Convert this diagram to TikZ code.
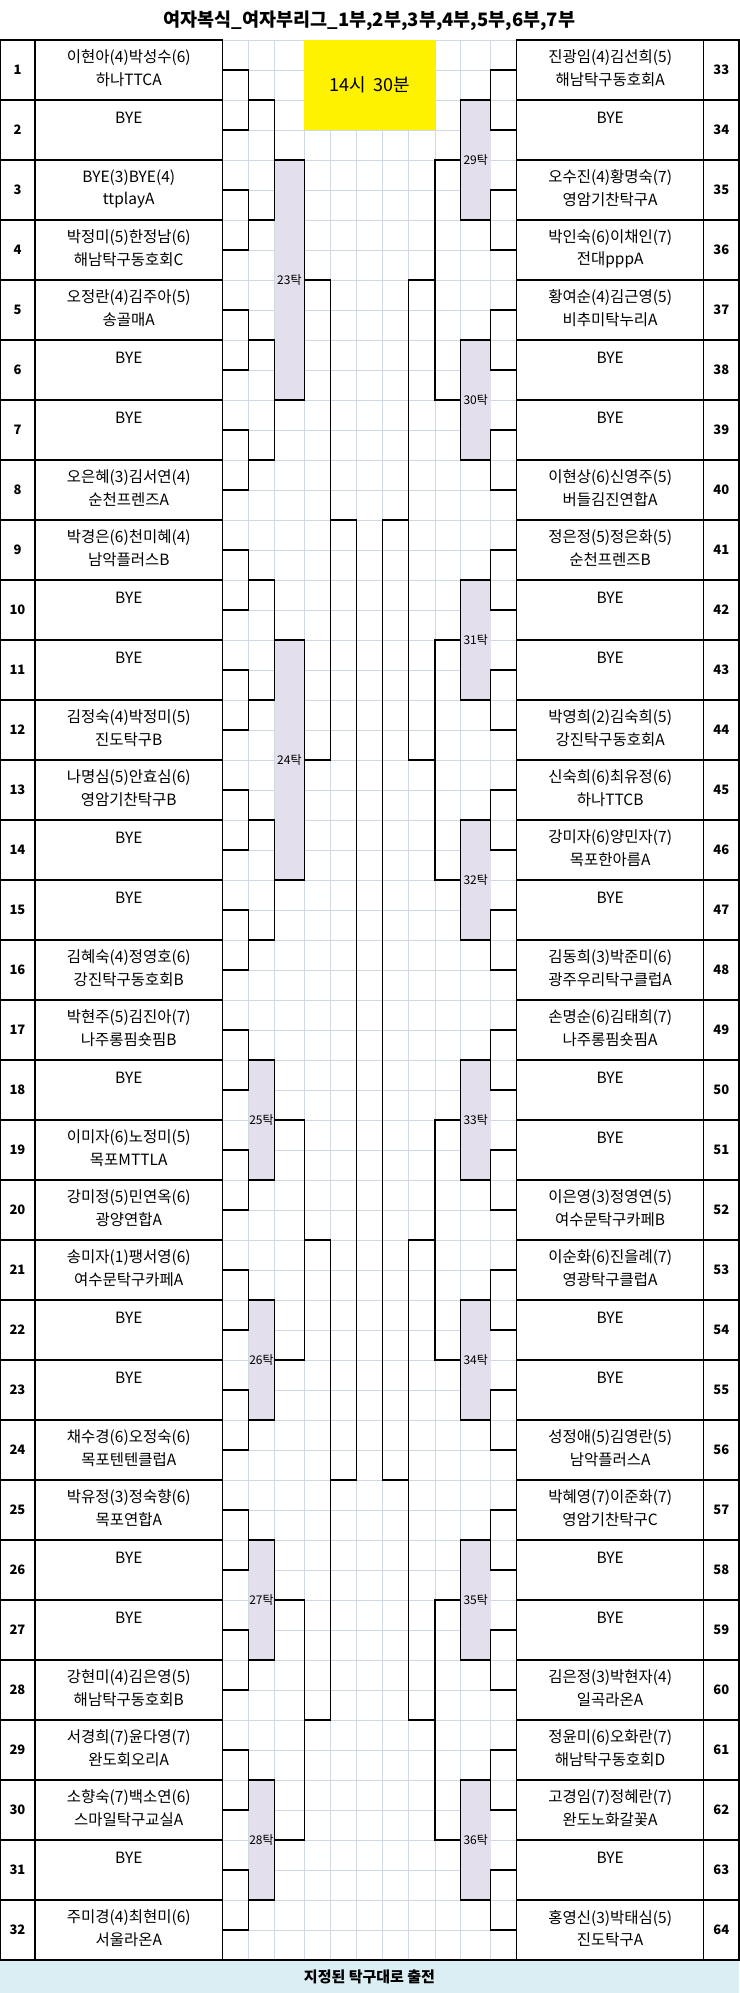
\documentclass[tikz,border=0pt]{standalone}
\usepackage{fontspec}
\setmainfont{Noto Sans CJK KR}
\definecolor{gridc}{HTML}{D0D7E5}
\definecolor{boxc}{HTML}{E4DFEC}
\definecolor{footc}{HTML}{DAEEF3}
\begin{document}
\begin{tikzpicture}[x=1pt,y=-1pt,
  gridline/.style={draw=gridc,line width=0.9pt},
  bline/.style={draw=black,line width=1.1pt},
  nametext/.style={font=\fontsize{15.5}{17}\selectfont,inner sep=0pt,anchor=center},
  numtext/.style={font=\bfseries\fontsize{13}{15}\selectfont,inner sep=0pt},
  taktext/.style={font=\fontsize{12}{14}\selectfont,inner sep=0pt},
  takbox/.style={fill=boxc,draw=none},
]
\useasboundingbox (0,0) rectangle (739,1993);
\fill[white] (0,0) rectangle (739,1993);
% grid
\foreach \x in {222.5,248.5,274.5,304.3,330.7,356.7,382.7,408.7,435,460.7,490.7,516.7}
  \draw[gridline] (\x,40) -- (\x,1960);
\foreach \i in {0,...,64}
  \draw[gridline] (222.5,40+30*\i) -- (516.7,40+30*\i);
% title
\node[font=\bfseries\fontsize{18.5}{20}\selectfont,inner sep=0pt] (title) at (369.5,21) {여자복식\_여자부리그\_1부,2부,3부,4부,5부,6부,7부};
% yellow time box
\fill[yellow] (304.3,40) rectangle (435,130);
\node[font=\fontsize{18}{20}\selectfont,inner sep=0pt] (time) at (369.6,85) {14시\ \ 30분};
% shaded table boxes
\foreach \t in {160,640} \fill[takbox] (274.5,\t) rectangle (304.3,\t+240);
\foreach \t in {1060,1300,1540,1780} \fill[takbox] (248.5,\t) rectangle (274.5,\t+120);
\foreach \t in {100,340,580,820,1060,1300,1540,1780} \fill[takbox] (460.7,\t) rectangle (490.7,\t+120);
\node[taktext] (t23) at (289.4,280) {23탁};
\node[taktext] (t24) at (289.4,760) {24탁};
\node[taktext] (t25) at (261.5,1120) {25탁};
\node[taktext] (t26) at (261.5,1360) {26탁};
\node[taktext] (t27) at (261.5,1600) {27탁};
\node[taktext] (t28) at (261.5,1840) {28탁};
\foreach \t/\lab in {100/29,340/30,580/31,820/32,1060/33,1300/34,1540/35,1780/36}
  \node[taktext] (t\lab) at (475.7,\t+60) {\lab{}탁};
% ---- left bracket ----
\foreach \k in {1,...,16}
  \draw[bline] (222.5,120*\k-50) -- (248.5,120*\k-50) -- (248.5,120*\k+10) -- (222.5,120*\k+10);
\foreach \j in {1,...,4}
  \draw[bline] (248.5,240*\j-140) -- (274.5,240*\j-140) -- (274.5,240*\j-20) -- (248.5,240*\j-20);
\foreach \t in {160,640}
  \draw[bline] (274.5,\t) -- (304.3,\t) -- (304.3,\t+240) -- (274.5,\t+240);
\draw[bline] (304.3,280) -- (330.7,280) -- (330.7,760) -- (304.3,760);
\foreach \t in {1060,1300,1540,1780}
  \draw[bline] (248.5,\t) -- (274.5,\t) -- (274.5,\t+120) -- (248.5,\t+120);
\draw[bline] (274.5,1120) -- (304.3,1120) -- (304.3,1360) -- (274.5,1360);
\draw[bline] (274.5,1600) -- (304.3,1600) -- (304.3,1840) -- (274.5,1840);
\draw[bline] (304.3,1240) -- (330.7,1240) -- (330.7,1720) -- (304.3,1720);
\draw[bline] (330.7,520) -- (356.7,520) -- (356.7,1480) -- (330.7,1480);
% ---- right bracket ----
\foreach \k in {1,...,16}
  \draw[bline] (516.7,120*\k-50) -- (490.7,120*\k-50) -- (490.7,120*\k+10) -- (516.7,120*\k+10);
\foreach \t in {100,340,580,820,1060,1300,1540,1780}
  \draw[bline] (490.7,\t) -- (460.7,\t) -- (460.7,\t+120) -- (490.7,\t+120);
\foreach \s in {160,640,1120,1600}
  \draw[bline] (460.7,\s) -- (435,\s) -- (435,\s+240) -- (460.7,\s+240);
\draw[bline] (435,280) -- (408.7,280) -- (408.7,760) -- (435,760);
\draw[bline] (435,1240) -- (408.7,1240) -- (408.7,1720) -- (435,1720);
\draw[bline] (408.7,520) -- (382.7,520) -- (382.7,1480) -- (408.7,1480);
% ---- entry cells ----
\foreach \i in {1,...,32}{
  \draw[bline] (0,60*\i-20) rectangle (35,60*\i+40);
  \draw[bline] (35,60*\i-20) rectangle (222.5,60*\i+40);
  \draw[bline] (516.7,60*\i-20) rectangle (703.6,60*\i+40);
  \draw[bline] (703.6,60*\i-20) rectangle (739,60*\i+40);
}
\foreach \i/\ta/\tb in {
 1/이현아(4)박성수(6)/하나TTCA,
 2/BYE/,
 3/BYE(3)BYE(4)/ttplayA,
 4/박정미(5)한정남(6)/해남탁구동호회C,
 5/오정란(4)김주아(5)/송골매A,
 6/BYE/,
 7/BYE/,
 8/오은혜(3)김서연(4)/순천프렌즈A,
 9/박경은(6)천미혜(4)/남악플러스B,
 10/BYE/,
 11/BYE/,
 12/김정숙(4)박정미(5)/진도탁구B,
 13/나명심(5)안효심(6)/영암기찬탁구B,
 14/BYE/,
 15/BYE/,
 16/김혜숙(4)정영호(6)/강진탁구동호회B,
 17/박현주(5)김진아(7)/나주롱핌숏핌B,
 18/BYE/,
 19/이미자(6)노정미(5)/목포MTTLA,
 20/강미정(5)민연옥(6)/광양연합A,
 21/송미자(1)팽서영(6)/여수문탁구카페A,
 22/BYE/,
 23/BYE/,
 24/채수경(6)오정숙(6)/목포텐텐클럽A,
 25/박유정(3)정숙향(6)/목포연합A,
 26/BYE/,
 27/BYE/,
 28/강현미(4)김은영(5)/해남탁구동호회B,
 29/서경희(7)윤다영(7)/완도회오리A,
 30/소향숙(7)백소연(6)/스마일탁구교실A,
 31/BYE/,
 32/주미경(4)최현미(6)/서울라온A}{
  \node[numtext] (n\i) at (17.5,60*\i+10) {\i};
  \node[nametext] (a\i) at (128.75,60*\i-2) {\ta};
  \node[nametext] (b\i) at (128.75,60*\i+20) {\tb};
}
\foreach \i/\ta/\tb in {
 1/진광임(4)김선희(5)/해남탁구동호회A,
 2/BYE/,
 3/오수진(4)황명숙(7)/영암기찬탁구A,
 4/박인숙(6)이채인(7)/전대pppA,
 5/황여순(4)김근영(5)/비추미탁누리A,
 6/BYE/,
 7/BYE/,
 8/이현상(6)신영주(5)/버들김진연합A,
 9/정은정(5)정은화(5)/순천프렌즈B,
 10/BYE/,
 11/BYE/,
 12/박영희(2)김숙희(5)/강진탁구동호회A,
 13/신숙희(6)최유정(6)/하나TTCB,
 14/강미자(6)양민자(7)/목포한아름A,
 15/BYE/,
 16/김동희(3)박준미(6)/광주우리탁구클럽A,
 17/손명순(6)김태희(7)/나주롱핌숏핌A,
 18/BYE/,
 19/BYE/,
 20/이은영(3)정영연(5)/여수문탁구카페B,
 21/이순화(6)진을례(7)/영광탁구클럽A,
 22/BYE/,
 23/BYE/,
 24/성정애(5)김영란(5)/남악플러스A,
 25/박혜영(7)이준화(7)/영암기찬탁구C,
 26/BYE/,
 27/BYE/,
 28/김은정(3)박현자(4)/일곡라온A,
 29/정윤미(6)오화란(7)/해남탁구동호회D,
 30/고경임(7)정혜란(7)/완도노화갈꽃A,
 31/BYE/,
 32/홍영신(3)박태심(5)/진도탁구A}{
  \pgfmathtruncatemacro{\num}{\i+32}
  \node[numtext] (n\num) at (721.3,60*\i+10) {\num};
  \node[nametext] (a\num) at (610.15,60*\i-2) {\ta};
  \node[nametext] (b\num) at (610.15,60*\i+20) {\tb};
}
% footer
\fill[footc] (0,1960) rectangle (739,1993);
\draw[bline] (0,1960) -- (739,1960);
\node[font=\bfseries\fontsize{15}{17}\selectfont,inner sep=0pt] (foot) at (369.5,1977) {지정된 탁구대로 출전};
\end{tikzpicture}
\end{document}
